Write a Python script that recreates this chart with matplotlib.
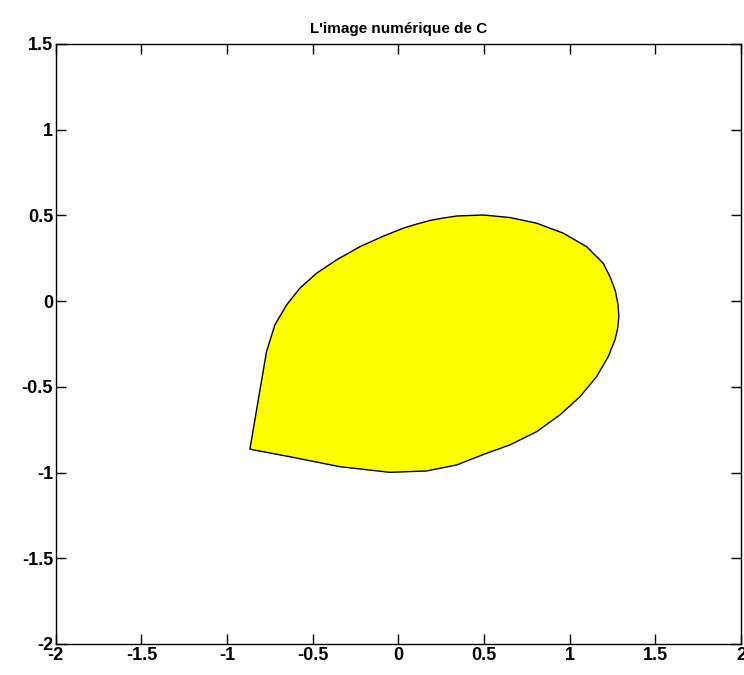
import matplotlib.pyplot as plt

# boundary of the region (counter-clockwise from the left corner)
xs = [-0.867, -0.634, -0.342, -0.050, 0.165, 0.340, 0.515, 0.651, 0.807, 0.943,
      1.060, 1.157, 1.225, 1.264, 1.280, 1.287, 1.282, 1.266, 1.236, 1.196,
      1.099, 0.962, 0.807, 0.651, 0.495, 0.340, 0.261, 0.184, 0.100, 0.028,
      -0.089, -0.225, -0.361, -0.478, -0.575, -0.653, -0.721, -0.770]
ys = [-0.864, -0.908, -0.966, -0.999, -0.991, -0.956, -0.888, -0.839, -0.762, -0.664,
      -0.558, -0.441, -0.324, -0.227, -0.160, -0.090, -0.020, 0.060, 0.140, 0.220,
      0.317, 0.396, 0.454, 0.487, 0.502, 0.496, 0.484, 0.470, 0.447, 0.425,
      0.378, 0.317, 0.240, 0.162, 0.075, -0.023, -0.139, -0.295]

xticks = [-2, -1.5, -1, -0.5, 0, 0.5, 1, 1.5, 2]
yticks = [-2, -1.5, -1, -0.5, 0, 0.5, 1, 1.5]

plt.rcParams['font.family'] = ['Liberation Sans', 'DejaVu Sans']

fig = plt.figure(figsize=(7.44, 6.75), dpi=100)
ax = fig.add_axes([0.075, 0.046, 0.921, 0.889])

ax.fill(xs, ys, facecolor='#ffff00', edgecolor='black', linewidth=1.0)

ax.set_xlim(-2, 2)
ax.set_ylim(-2, 1.5)
ax.set_xticks(xticks)
ax.set_yticks(yticks)
ax.set_xticklabels(['-2', '-1.5', '-1', '-0.5', '0', '0.5', '1', '1.5', '2'],
                   fontsize=13, fontweight='bold')
ax.set_yticklabels(['-2', '-1.5', '-1', '-0.5', '0', '0.5', '1', '1.5'],
                   fontsize=13, fontweight='bold')
ax.tick_params(direction='in', top=True, right=True, length=7, width=1, pad=2)
for s in ax.spines.values():
    s.set_linewidth(1)

ax.set_title("L'image numérique de C", fontsize=11, fontweight='bold', pad=8)

fig.savefig('out.png', dpi=100)
